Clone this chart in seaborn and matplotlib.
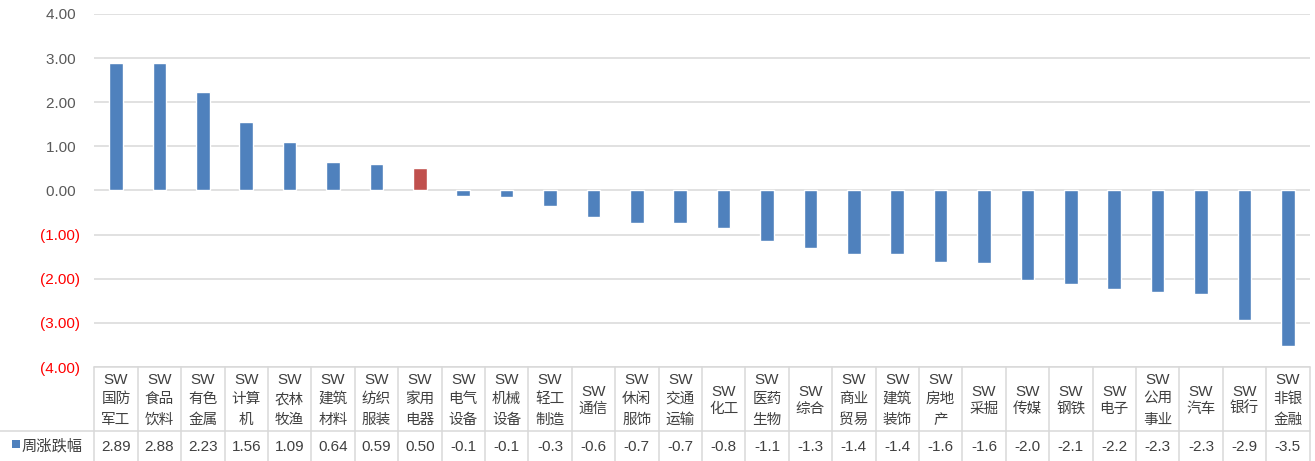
import matplotlib
matplotlib.use('Agg')
import matplotlib.pyplot as plt
import matplotlib.transforms as mtransforms
from matplotlib.patches import Rectangle
from matplotlib.lines import Line2D
import seaborn as sns
import pandas as pd

# ---- data ----
categories = ['国防军工', '食品饮料', '有色金属', '计算机', '农林牧渔', '建筑材料', '纺织服装',
              '家用电器', '电气设备', '机械设备', '轻工制造', '通信', '休闲服饰', '交通运输',
              '化工', '医药生物', '综合', '商业贸易', '建筑装饰', '房地产', '采掘', '传媒',
              '钢铁', '电子', '公用事业', '汽车', '银行', '非银金融']
values = [2.89, 2.88, 2.23, 1.56, 1.09, 0.64, 0.59, 0.50, -0.13, -0.14, -0.34, -0.60,
          -0.74, -0.74, -0.84, -1.14, -1.30, -1.43, -1.44, -1.63, -1.64, -2.03, -2.12,
          -2.24, -2.29, -2.34, -2.94, -3.52]
prefix = 'SW'
highlight = '家用电器'
series_name = '周涨跌幅'
yticks = [4, 3, 2, 1, 0, -1, -2, -3, -4]

BLUE = '#4F81BD'
RED = '#C0504D'
GRID = '#D9D9D9'
TXT = '#404040'

sns.set_theme(style='white')
plt.rcParams['font.family'] = ['Liberation Sans', 'Noto Sans CJK SC', 'DejaVu Sans']

W, H = 1315, 461
fig = plt.figure(figsize=(W / 100, H / 100), dpi=100)
x0, x1 = 94.3, 1309.5
ytop, ybot = 14, 367
ax = fig.add_axes([x0 / W, 1 - ybot / H, (x1 - x0) / W, (ybot - ytop) / H])

df = pd.DataFrame({'cat': categories, 'val': values})
palette = {c: (RED if c == highlight else BLUE) for c in categories}
sns.barplot(data=df, x='cat', y='val', hue='cat', palette=palette, legend=False,
            width=0.31, saturation=1, ax=ax, zorder=3)

ax.set_xlim(-0.5, len(categories) - 0.5)
ax.set_ylim(-4, 4)
ax.set_yticks(yticks)
ax.set_yticklabels([f'{t:.2f} ' if t >= 0 else f'({abs(t):.2f})' for t in yticks])
for t, lab in zip(yticks, ax.get_yticklabels()):
    lab.set_color('#595959' if t >= 0 else '#FF0000')
ax.tick_params(axis='y', length=0, pad=10.3, labelsize=11)
ax.tick_params(axis='x', bottom=False, labelbottom=False)
ax.set_xlabel('')
ax.set_ylabel('')
ax.yaxis.grid(True, color=GRID, lw=1.1)
ax.set_axisbelow(True)
for s in ax.spines.values():
    s.set_visible(False)

# ---- data table below ----
trans = mtransforms.blended_transform_factory(ax.transData, fig.transFigure)

def fy(px):
    return 1 - px / H

for i, (cat, v) in enumerate(zip(categories, values)):
    if len(cat) <= 2:
        lines = [prefix, cat]
        ys = [392, 409]
    else:
        lines = [prefix, cat[:2], cat[2:]]
        ys = [380, 399, 420]
    for ln, yy in zip(lines, ys):
        ax.text(i, fy(yy), ln, transform=trans, ha='center', va='center',
                fontsize=11 if ln == prefix else 10.5, color=TXT, clip_on=False)
    s = f'{v:.2f}' if v >= 0 else f'{v:.1f}'
    ax.text(i, fy(446.5), s, transform=trans, ha='center', va='center',
            fontsize=11, color=TXT, clip_on=False)

# borders
for k in range(len(categories) + 1):
    xb = k - 0.5
    fig.add_artist(Line2D([xb, xb], [fy(367), fy(461)], transform=trans,
                          color=GRID, lw=1.1))
fig.add_artist(Line2D([x0 / W, x1 / W], [fy(367), fy(367)], transform=fig.transFigure,
                      color=GRID, lw=1.1))
fig.add_artist(Line2D([0, x1 / W], [fy(431), fy(431)], transform=fig.transFigure,
                      color=GRID, lw=1.1))

# legend key + series name
fig.patches.append(Rectangle((12 / W, fy(448)), 8 / W, 8 / H, transform=fig.transFigure,
                             facecolor=BLUE, edgecolor='none'))
fig.text(22 / W, fy(446.5), series_name, ha='left', va='center', fontsize=11, color=TXT)

fig.savefig('out.png', dpi=100)
